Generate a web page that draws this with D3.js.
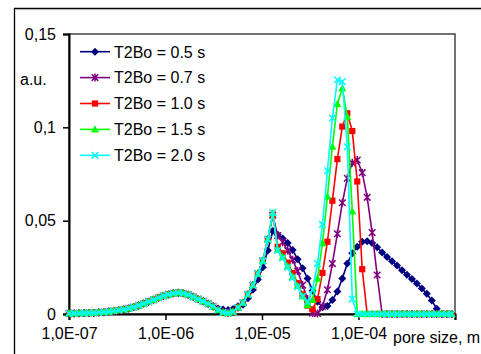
<!DOCTYPE html>
<html>
<head>
<meta charset="utf-8">
<script src="https://cdn.jsdelivr.net/npm/d3@7"></script>
<style>
  html, body { margin: 0; padding: 0; background: #fff; }
  svg { display: block; font-family: "Liberation Sans", Arial, sans-serif; }
</style>
</head>
<body>
<svg id="chart" width="481" height="354"></svg>
<script>
// ---------------- DATA ----------------
// pore-size sampling grid (log-spaced, as in the source distribution)
const logMin = -7;
const logStep = 0.0515;
const nPoints = 78;
const poreSizes = d3.range(nPoints).map(i => Math.pow(10, logMin + i * logStep));

const seriesNames = ["T2Bo = 0.5 s", "T2Bo = 0.7 s", "T2Bo = 1.0 s", "T2Bo = 1.5 s", "T2Bo = 2.0 s"];

const t2bo05 = [
  0.0003,0.0003,0.0004,0.0005,0.0006,0.0006,0.0008,0.0010,0.0013,0.0016,
  0.0020,0.0024,0.0030,0.0037,0.0046,0.0056,0.0066,0.0076,0.0087,0.0097,
  0.0105,0.0111,0.0114,0.0111,0.0103,0.0092,0.0080,0.0068,0.0055,0.0042,
  0.0030,0.0024,0.0022,0.0027,0.0042,0.0050,0.0085,0.0130,0.0185,0.0250,
  0.0340,0.0445,0.0425,0.0405,0.0380,0.0343,0.0293,0.0245,0.0190,0.0125,
  0.0066,0.0036,0.0043,0.0075,0.0120,0.0190,0.0270,0.0325,0.0360,0.0387,
  0.0390,0.0380,0.0357,0.0330,0.0305,0.0283,0.0260,0.0234,0.0210,0.0188,
  0.0163,0.0137,0.0108,0.0072,0.0028,0,0,0
];
const t2bo07 = [
  0.0003,0.0003,0.0004,0.0005,0.0006,0.0006,0.0008,0.0010,0.0013,0.0016,
  0.0020,0.0024,0.0030,0.0037,0.0046,0.0056,0.0066,0.0076,0.0087,0.0097,
  0.0105,0.0111,0.0114,0.0111,0.0103,0.0092,0.0080,0.0068,0.0055,0.0040,
  0.0022,0.0009,0.0005,0.0012,0.0035,0.0060,0.0105,0.0155,0.0215,0.0285,
  0.0400,0.0530,0.0420,0.0385,0.0340,0.0290,0.0230,0.0155,0.0080,0.0005,
  0.0003,0.0040,0.0130,0.0270,0.0430,0.0596,0.0727,0.0810,0.0825,0.0757,
  0.0625,0.0436,0.0209,0,0,0,0,0,0,0,
  0,0,0,0,0,0,0,0
];
const t2bo10 = [
  0.0003,0.0003,0.0004,0.0005,0.0006,0.0006,0.0008,0.0010,0.0013,0.0016,
  0.0020,0.0024,0.0030,0.0037,0.0046,0.0056,0.0066,0.0076,0.0087,0.0097,
  0.0105,0.0111,0.0114,0.0111,0.0103,0.0092,0.0080,0.0068,0.0055,0.0040,
  0.0022,0.0009,0.0005,0.0012,0.0035,0.0060,0.0105,0.0155,0.0215,0.0285,
  0.0400,0.0530,0.0360,0.0325,0.0275,0.0220,0.0165,0.0105,0.0045,0.0025,
  0.0080,0.0220,0.0387,0.0607,0.0830,0.1004,0.1075,0.0980,0.0710,0.0240,
  0,0,0,0,0,0,0,0,0,0,
  0,0,0,0,0,0,0,0
];
const t2bo15 = [
  0.0003,0.0003,0.0004,0.0005,0.0006,0.0006,0.0008,0.0010,0.0013,0.0016,
  0.0020,0.0024,0.0030,0.0037,0.0046,0.0056,0.0066,0.0076,0.0087,0.0097,
  0.0105,0.0111,0.0114,0.0111,0.0103,0.0092,0.0080,0.0068,0.0055,0.0040,
  0.0022,0.0009,0.0005,0.0012,0.0035,0.0060,0.0105,0.0155,0.0215,0.0285,
  0.0400,0.0540,0.0345,0.0305,0.0255,0.0200,0.0150,0.0095,0.0048,0.0075,
  0.0190,0.0380,0.0630,0.0896,0.1125,0.1210,0.1057,0.0550,0,0,
  0,0,0,0,0,0,0,0,0,0,
  0,0,0,0,0,0,0,0
];
const t2bo20 = [
  0.0003,0.0003,0.0004,0.0005,0.0006,0.0006,0.0008,0.0010,0.0013,0.0016,
  0.0020,0.0024,0.0030,0.0037,0.0046,0.0056,0.0066,0.0076,0.0087,0.0097,
  0.0105,0.0111,0.0114,0.0111,0.0103,0.0092,0.0080,0.0068,0.0055,0.0040,
  0.0022,0.0009,0.0005,0.0012,0.0035,0.0060,0.0105,0.0155,0.0215,0.0285,
  0.0400,0.0545,0.0340,0.0300,0.0250,0.0195,0.0145,0.0095,0.0065,0.0130,
  0.0270,0.0480,0.0768,0.1050,0.1255,0.1245,0.0896,0.0080,0,0,
  0,0,0,0,0,0,0,0,0,0,
  0,0,0,0,0,0,0,0
];
const seriesValues = [t2bo05, t2bo07, t2bo10, t2bo15, t2bo20];

const yTickValues = [0, 0.05, 0.1, 0.15];
const yTickLabels = ["0", "0,05", "0,1", "0,15"];
const xTickValues = [1e-7, 1e-6, 1e-5, 1e-4, 1e-3];
const xTickLabels = ["1,0E-07", "1,0E-06", "1,0E-05", "1,0E-04", ""];
const yAxisTitle = "a.u.";
const xAxisTitle = "pore size, m";

// ---------------- STYLE ----------------
const colors = ["#000080", "#800080", "#ff0000", "#00ff00", "#00ffff"];
const markerTypes = ["diamond", "asterisk", "square", "triangle", "cross"];

const svg = d3.select("#chart");
const plot = { left: 69, top: 34, right: 455, bottom: 314 };

const x = d3.scaleLog().domain([1e-7, 1e-3]).range([plot.left, plot.right]);
const y = d3.scaleLinear().domain([0, 0.15]).range([plot.bottom, plot.top]);

// outer chart frame
svg.append("line").attr("x1", 14.5).attr("x2", 14.5).attr("y1", 8).attr("y2", 354)
  .attr("stroke", "#000").attr("stroke-width", 1.3);
svg.append("line").attr("x1", 14).attr("x2", 481).attr("y1", 8.5).attr("y2", 8.5)
  .attr("stroke", "#000").attr("stroke-width", 1.3);
svg.append("line").attr("x1", 15).attr("x2", 481).attr("y1", 9.7).attr("y2", 9.7)
  .attr("stroke", "#bbb").attr("stroke-width", 1);

// plot-area border
svg.append("rect")
  .attr("x", plot.left).attr("y", plot.top)
  .attr("width", plot.right - plot.left).attr("height", plot.bottom - plot.top)
  .attr("fill", "none").attr("stroke", "#444").attr("stroke-width", 1.5);

// axes
const fontSize = 16;
const yAxis = d3.axisLeft(y).tickValues(yTickValues)
  .tickFormat((d, i) => yTickLabels[i]).tickSize(6).tickPadding(7);
const gy = svg.append("g").attr("transform", `translate(${plot.left},0)`).call(yAxis);
const xAxis = d3.axisBottom(x).tickValues(xTickValues)
  .tickFormat((d, i) => xTickLabels[i]).tickSize(6).tickPadding(8);
const gx = svg.append("g").attr("transform", `translate(0,${plot.bottom})`).call(xAxis);

[gx, gy].forEach(g => {
  g.select(".domain").attr("stroke", "#000").attr("stroke-width", 2);
  g.selectAll(".tick line").attr("stroke", "#000").attr("stroke-width", 1.5);
  g.selectAll(".tick text").attr("fill", "#000")
    .style("font-size", fontSize + "px").style("font-family", '"Liberation Sans", Arial, sans-serif');
});

svg.append("text").attr("x", 20).attr("y", 85).text(yAxisTitle)
  .style("font-size", fontSize + "px").attr("fill", "#000");
svg.append("text").attr("x", 393).attr("y", 342.5).text(xAxisTitle)
  .style("font-size", fontSize + "px").attr("fill", "#000");

// markers
function drawMarker(g, type, color) {
  if (type === "diamond") {
    g.append("path").attr("d", "M0,-4L4,0L0,4L-4,0Z").attr("fill", color);
  } else if (type === "square") {
    g.append("rect").attr("x", -3.1).attr("y", -3.1).attr("width", 6.2).attr("height", 6.2).attr("fill", color);
  } else if (type === "triangle") {
    g.append("path").attr("d", "M0,-4.2L4,3.1L-4,3.1Z").attr("fill", color);
  } else if (type === "asterisk") {
    g.append("path").attr("d", "M-3.3,-3.3L3.3,3.3M-3.3,3.3L3.3,-3.3M0,-4L0,4")
      .attr("stroke", color).attr("stroke-width", 1.5).attr("fill", "none");
  } else if (type === "cross") {
    g.append("path").attr("d", "M-3.3,-3.3L3.3,3.3M-3.3,3.3L3.3,-3.3")
      .attr("stroke", color).attr("stroke-width", 1.5).attr("fill", "none");
  }
}

const line = d3.line().x(d => x(d[0])).y(d => y(d[1]));

seriesValues.forEach((vals, s) => {
  const pts = vals.map((v, i) => [poreSizes[i], v]);
  const g = svg.append("g");
  g.append("path").datum(pts).attr("d", line)
    .attr("fill", "none").attr("stroke", colors[s]).attr("stroke-width", 1.6)
    .attr("stroke-linejoin", "round");
  g.selectAll("g.m").data(pts).join("g").attr("class", "m")
    .attr("transform", d => `translate(${x(d[0])},${y(d[1])})`)
    .each(function () { drawMarker(d3.select(this), markerTypes[s], colors[s]); });
});

// legend
const legend = svg.append("g");
seriesNames.forEach((name, s) => {
  const cy = 51.7 + s * 25.9;
  legend.append("line").attr("x1", 80).attr("x2", 110).attr("y1", cy).attr("y2", cy)
    .attr("stroke", colors[s]).attr("stroke-width", 1.6);
  const mg = legend.append("g").attr("transform", `translate(95,${cy})`);
  drawMarker(mg, markerTypes[s], colors[s]);
  legend.append("text").attr("x", 114).attr("y", cy + 5.8).text(name)
    .style("font-size", fontSize + "px").attr("fill", "#000");
});
</script>
</body>
</html>
